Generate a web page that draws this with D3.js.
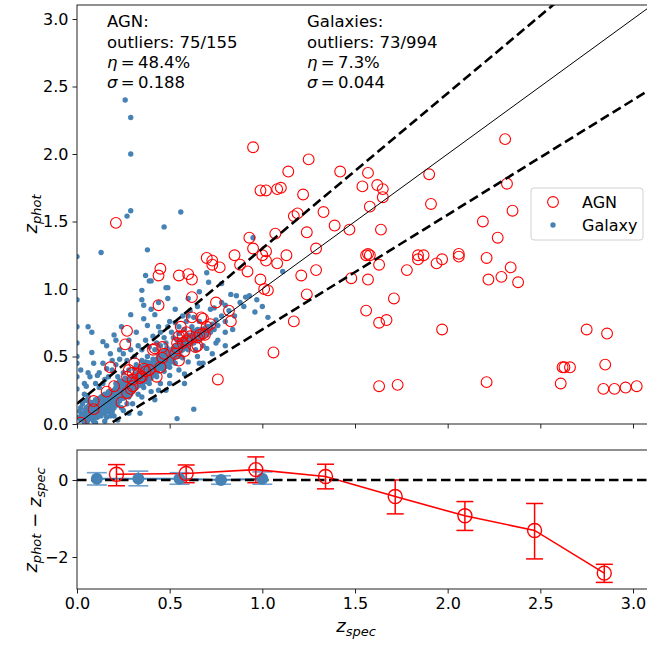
<!DOCTYPE html>
<html><head><meta charset="utf-8">
<script src="https://cdn.jsdelivr.net/npm/d3@7"></script>
<style>body{margin:0;background:#fff}svg{display:block;font-family:"DejaVu Sans",sans-serif}</style>
</head><body><div id="chart"></div>
<script>
// ---------- data ----------
const xTicks = [0, 0.5, 1.0, 1.5, 2.0, 2.5, 3.0];
const yTopTicks = [0, 0.5, 1.0, 1.5, 2.0, 2.5, 3.0];
const yBotTicks = [0, -2];
const outlierFrac = 0.15;

const agnPoints = [
[0.95,2.05],[1.14,1.87],[1.25,1.96],[0.99,1.73],[1.02,1.73],[1.08,1.74],[1.10,1.75],[1.22,1.70],[1.33,1.57],[1.17,1.54],
[1.19,1.56],[1.07,1.41],[1.24,1.42],[1.29,1.30],[0.93,1.38],[0.95,1.30],[1.02,1.28],[1.00,1.25],[1.13,1.25],[1.02,1.21],
[1.08,1.19],[0.85,1.25],[0.70,1.23],[0.73,1.21],[0.73,1.18],[0.77,1.16],[0.88,1.18],[1.29,1.14],
[1.42,1.87],[1.57,1.86],[1.90,1.85],[1.54,1.76],[1.62,1.77],[1.65,1.74],[1.65,1.68],[1.58,1.61],[1.91,1.63],[1.39,1.47],
[1.47,1.44],[1.64,1.44],[2.19,1.50],[1.56,1.25],[1.57,1.26],[1.58,1.25],[1.63,1.18],[1.84,1.25],[1.84,1.22],[1.87,1.25],
[1.94,1.19],[1.97,1.22],[2.06,1.26],[2.06,1.24],[2.21,1.23],[1.78,1.14],
[1.21,1.10],[1.48,1.08],[1.57,1.07],[1.24,0.96],[1.71,0.93],[1.17,0.76],[1.56,0.84],[1.63,0.75],[1.67,0.77],[1.97,0.70],
[1.06,0.53],[1.63,0.28],[1.73,0.29],[2.22,1.07],[2.21,0.31],
[2.31,2.11],[2.32,1.78],[2.35,1.58],[2.27,1.38],[2.34,1.16],[2.29,1.09],[2.38,1.05],[2.75,0.70],[2.86,0.67],
[2.62,0.42],[2.63,0.42],[2.66,0.42],[2.85,0.44],[2.61,0.30],[2.84,0.26],[2.90,0.26],[2.96,0.27],[3.02,0.28],
[0.21,1.49],[0.45,1.15],[0.44,1.10],[0.55,1.10],[0.60,1.11],[0.62,1.07],[0.62,0.94],[0.44,0.88],[0.92,1.13],[0.99,1.07],
[1.01,1.00],[1.03,0.99],[0.75,0.90],[0.82,0.84],[0.83,0.76],[0.27,0.69],[0.26,0.59],[0.18,0.42],[0.16,0.24],[0.09,0.17],
[0.09,0.11],[0.02,0.01],[0.24,0.16],[0.27,0.23],[0.29,0.26],[0.30,0.28],[0.27,0.35],[0.31,0.45],[0.28,0.40],[0.30,0.38],
[0.34,0.34],[0.37,0.39],[0.39,0.40],[0.43,0.35],[0.45,0.42],[0.42,0.56],[0.46,0.57],[0.47,0.52],[0.46,0.49],[0.54,0.60],
[0.54,0.56],[0.55,0.65],[0.56,0.72],[0.59,0.68],[0.59,0.62],[0.58,0.54],[0.64,0.57],[0.65,0.64],[0.66,0.66],[0.68,0.67],
[0.69,0.66],[0.62,0.79],[0.68,0.78],[0.76,0.33],[0.30,0.33],[0.36,0.41],[0.41,0.55],[0.53,0.52],[0.55,0.47],[0.57,0.60],
[0.57,0.65],[0.61,0.65],[0.65,0.58],[0.67,0.79],[0.70,0.72],[0.72,0.74],[0.35,0.35],[0.33,0.37],[0.20,0.28]
];

const galaxyCore = [
[0.02,0.03],[0.03,0.08],[0.04,0.01],[0.05,0.06],[0.05,0.12],[0.06,0.03],[0.07,0.09],[0.07,0.15],[0.08,0.05],[0.08,0.11],
[0.09,0.02],[0.09,0.14],[0.10,0.08],[0.10,0.18],[0.03,0.15],[0.04,0.22],[0.06,0.20],[0.01,0.05],[0.02,0.12],[0.10,0.01],
[0.11,0.05],[0.11,0.12],[0.12,0.09],[0.12,0.16],[0.13,0.13],[0.13,0.20],[0.14,0.10],[0.14,0.17],[0.15,0.14],[0.15,0.22],
[0.16,0.12],[0.16,0.19],[0.17,0.15],[0.17,0.24],[0.18,0.17],[0.18,0.11],[0.19,0.20],[0.19,0.14],[0.20,0.18],[0.20,0.25],
[0.20,0.12],[0.12,0.27],[0.14,0.30],[0.16,0.05],[0.18,0.06],[0.15,0.33],[0.13,0.06],[0.15,0.08],[0.17,0.09],[0.19,0.09],
[0.21,0.22],[0.21,0.16],[0.22,0.20],[0.22,0.27],[0.23,0.23],[0.23,0.17],[0.24,0.25],[0.24,0.30],[0.25,0.22],[0.25,0.28],
[0.26,0.26],[0.26,0.20],[0.27,0.29],[0.27,0.33],[0.28,0.27],[0.28,0.23],[0.29,0.31],[0.29,0.26],[0.30,0.29],[0.30,0.35],
[0.30,0.24],[0.22,0.35],[0.25,0.38],[0.28,0.40],[0.24,0.12],[0.27,0.15],[0.21,0.30],[0.23,0.32],[0.26,0.34],[0.22,0.14],
[0.24,0.19],[0.26,0.23],[0.28,0.20],[0.29,0.34],[0.25,0.31],[0.23,0.28],[0.21,0.25],[0.27,0.25],[0.29,0.22],[0.20,0.21],
[0.31,0.30],[0.31,0.36],[0.32,0.33],[0.32,0.27],[0.33,0.32],[0.33,0.38],[0.34,0.35],[0.34,0.30],[0.35,0.37],[0.35,0.33],
[0.36,0.40],[0.36,0.34],[0.37,0.36],[0.37,0.42],[0.38,0.38],[0.38,0.33],[0.39,0.40],[0.39,0.44],[0.40,0.38],[0.40,0.42],
[0.32,0.44],[0.35,0.47],[0.38,0.50],[0.33,0.22],[0.36,0.27],[0.39,0.30],[0.31,0.41],[0.34,0.42],[0.37,0.46],[0.32,0.37],
[0.33,0.29],[0.35,0.40],[0.36,0.31],[0.38,0.43],[0.39,0.36],[0.40,0.45],[0.31,0.33],[0.34,0.38],[0.37,0.32],[0.40,0.34],
[0.41,0.41],[0.41,0.45],[0.42,0.43],[0.42,0.38],[0.43,0.44],[0.43,0.48],[0.44,0.42],[0.44,0.46],[0.45,0.45],[0.45,0.50],
[0.46,0.44],[0.46,0.48],[0.47,0.47],[0.47,0.52],[0.48,0.46],[0.48,0.50],[0.49,0.49],[0.49,0.54],[0.50,0.48],[0.50,0.52],
[0.42,0.55],[0.45,0.58],[0.48,0.60],[0.43,0.35],[0.47,0.39],[0.50,0.42],[0.41,0.48],[0.44,0.51],[0.46,0.41],[0.48,0.54],
[0.51,0.51],[0.51,0.55],[0.52,0.53],[0.52,0.48],[0.53,0.54],[0.53,0.58],[0.54,0.52],[0.54,0.56],[0.55,0.55],[0.55,0.60],
[0.56,0.54],[0.56,0.58],[0.57,0.57],[0.57,0.62],[0.58,0.56],[0.58,0.60],[0.59,0.59],[0.59,0.64],[0.60,0.58],[0.60,0.62],
[0.52,0.64],[0.55,0.67],[0.58,0.70],[0.53,0.45],[0.57,0.49],[0.51,0.46],[0.54,0.62],[0.56,0.50],[0.60,0.66],
[0.61,0.61],[0.61,0.65],[0.62,0.63],[0.63,0.60],[0.63,0.66],[0.64,0.64],[0.65,0.68],[0.65,0.62],[0.66,0.66],[0.67,0.70],
[0.67,0.64],[0.68,0.67],[0.69,0.71],[0.69,0.66],[0.70,0.69],[0.62,0.72],[0.66,0.76],[0.64,0.55],[0.68,0.58],
[0.71,0.72],[0.72,0.68],[0.73,0.74],[0.74,0.70],[0.75,0.77],[0.76,0.73],[0.78,0.80],[0.80,0.76],[0.82,0.84],[0.85,0.80],
[0.88,0.90],[0.72,0.85],[0.78,0.90],[0.76,0.62],[0.84,0.70],[0.90,0.87],[0.93,0.95],[0.97,0.92],[0.80,0.88],[0.86,0.95],
[0.05,0.09],[0.06,0.07],[0.06,0.13],[0.07,0.04],[0.08,0.08],[0.08,0.16],[0.09,0.06],[0.09,0.10],[0.10,0.12],[0.10,0.05],
[0.11,0.09],[0.11,0.15],[0.12,0.12],[0.12,0.19],[0.13,0.10],[0.13,0.16],[0.14,0.14],[0.14,0.21],[0.15,0.11],[0.15,0.17],
[0.16,0.15],[0.16,0.22],[0.17,0.12],[0.17,0.18],[0.18,0.14],[0.18,0.21],[0.19,0.17],[0.19,0.24],[0.20,0.15],[0.20,0.22],
[0.21,0.19],[0.21,0.27],[0.22,0.23],[0.22,0.17],[0.23,0.20],[0.23,0.26],[0.24,0.22],[0.24,0.27],[0.25,0.25],[0.25,0.19],
[0.26,0.29],[0.26,0.23],[0.27,0.27],[0.27,0.21],[0.28,0.30],[0.28,0.25],[0.29,0.28],[0.29,0.33],[0.30,0.27],[0.30,0.32],
[0.31,0.33],[0.31,0.28],[0.32,0.31],[0.32,0.35],[0.33,0.34],[0.33,0.30],[0.34,0.33],[0.34,0.37],[0.35,0.35],[0.35,0.31],
[0.36,0.37],[0.36,0.43],[0.37,0.39],[0.37,0.34],[0.38,0.36],[0.38,0.41],[0.39,0.38],[0.39,0.34],[0.40,0.40],[0.40,0.36],
[0.41,0.43],[0.41,0.39],[0.42,0.41],[0.42,0.46],[0.43,0.42],[0.43,0.39],[0.44,0.44],[0.44,0.49],[0.45,0.43],[0.45,0.47],
[0.46,0.46],[0.46,0.51],[0.47,0.45],[0.47,0.49],[0.48,0.48],[0.48,0.44],[0.49,0.47],[0.49,0.51],[0.50,0.50],[0.50,0.46],
[0.51,0.53],[0.51,0.49],[0.52,0.51],[0.52,0.56],[0.53,0.52],[0.53,0.56],[0.54,0.54],[0.54,0.50],[0.55,0.53],[0.55,0.57],
[0.56,0.56],[0.56,0.61],[0.57,0.55],[0.57,0.59],[0.58,0.58],[0.58,0.63],[0.59,0.57],[0.59,0.61],[0.60,0.60],[0.60,0.55],
[0.61,0.63],[0.61,0.59],[0.62,0.61],[0.62,0.66],[0.63,0.64],[0.63,0.69],[0.64,0.62],[0.64,0.67],[0.65,0.65],[0.65,0.70],
[0.66,0.63],[0.66,0.69],[0.67,0.67],[0.68,0.70],[0.68,0.64],[0.69,0.68],[0.70,0.66],[0.70,0.72],[0.71,0.69],[0.72,0.71],
[0.105,0.135],[0.115,0.075],[0.125,0.145],[0.135,0.085],[0.145,0.185],[0.155,0.125],[0.165,0.205],[0.175,0.135],[0.185,0.195],[0.195,0.115],
[0.205,0.235],[0.215,0.175],[0.225,0.245],[0.235,0.195],[0.245,0.285],[0.255,0.215],[0.265,0.305],[0.275,0.235],[0.285,0.325],[0.295,0.245],
[0.305,0.315],[0.315,0.265],[0.325,0.355],[0.335,0.285],[0.345,0.395],[0.355,0.305],[0.365,0.385],[0.375,0.315],[0.385,0.455],[0.395,0.335],
[0.405,0.435],[0.415,0.365],[0.425,0.475],[0.435,0.385],[0.445,0.475],[0.455,0.415],[0.465,0.535],[0.475,0.425],[0.485,0.565],[0.495,0.445],
[0.035,0.045],[0.045,0.105],[0.055,0.015],[0.065,0.165],[0.075,0.065],[0.085,0.135],[0.095,0.085],[0.025,0.075],[0.015,0.095],[0.045,0.175]
];

const galaxyScatter = [
[0.00,1.24],[0.00,0.92],[0.00,0.60],[0.00,0.45],[0.00,0.35],[0.00,0.50],[0.00,0.72],[0.00,0.26],
[0.26,2.40],[0.29,2.27],[0.29,2.00],[0.29,1.58],[0.27,1.54],[0.56,1.57],[0.47,1.46],[0.13,1.27],[0.38,1.29],[0.37,1.10],
[0.39,1.06],[0.40,1.06],[0.48,1.01],[0.49,1.01],[0.49,0.93],[0.35,0.99],[0.29,0.81],[0.06,0.72],[0.08,0.68],[0.14,0.61],
[0.08,0.53],[0.63,0.11],[0.34,0.08],[0.54,0.04],[0.38,0.73],[0.95,1.38],[1.00,0.87],[0.83,0.96],[0.70,1.12],[0.71,1.05],
[0.78,1.04],[0.91,0.94],[0.96,0.83],[1.03,0.79],[1.11,1.13],[0.35,0.92],[0.36,0.88],[0.42,0.81],[0.53,0.85],[0.60,0.93],
[0.66,0.98],[0.44,0.72],[0.50,0.76],[0.23,0.55],[0.19,0.47],[0.16,0.41],[0.11,0.36],[0.21,0.62],[0.44,0.25],[0.50,0.30],
[0.58,0.37],[0.66,0.45],[0.73,0.52],[0.80,0.58],[0.60,0.80],[0.74,0.86],[0.04,0.30],[0.07,0.35],[0.02,0.40],
[0.10,0.30],[0.12,0.38],[0.14,0.45],[0.17,0.35],[0.19,0.40],[0.21,0.44],[0.23,0.48],[0.25,0.52],[0.27,0.47],[0.29,0.55],
[0.31,0.50],[0.33,0.58],[0.35,0.55],[0.37,0.62],[0.39,0.57],[0.41,0.65],[0.43,0.60],[0.45,0.68],[0.47,0.64],[0.49,0.72],
[0.51,0.68],[0.53,0.75],[0.55,0.72],[0.57,0.80],[0.59,0.76],[0.61,0.84],[0.63,0.79],[0.65,0.87],[0.20,0.66],[0.24,0.72],
[0.28,0.62],[0.32,0.68],[0.36,0.78],[0.40,0.85],[0.44,0.90],[0.18,0.52],[0.16,0.58],[0.09,0.45],[0.06,0.38],[0.05,0.28],
[0.15,0.02],[0.20,0.06],[0.25,0.10],[0.30,0.15],[0.35,0.20],[0.40,0.24],[0.45,0.30],[0.50,0.36],[0.55,0.40],[0.60,0.46],
[0.65,0.50],[0.70,0.56],[0.22,0.03],[0.28,0.08],[0.42,0.18],[0.48,0.25],[0.58,0.30],[0.68,0.45],[0.75,0.60],[0.80,0.68]
];

// bottom panel binned residuals
const agnBinZ   = [0.213, 0.589, 0.965, 1.341, 1.717, 2.093, 2.469, 2.845];
const agnBinMed = [0.15, 0.17, 0.27, 0.09, -0.43, -0.93, -1.31, -2.42];
const agnBinLo  = [-0.15, -0.07, -0.07, -0.23, -0.88, -1.31, -2.05, -2.66];
const agnBinHi  = [0.40, 0.39, 0.60, 0.41, 0.00, -0.56, -0.61, -2.19];

const galBinZ   = [0.107, 0.331, 0.553, 0.777, 1.000];
const galBinMed = [0.03, 0.03, 0.03, 0.00, 0.03];
const galBinLo  = [-0.13, -0.15, -0.11, -0.11, -0.11];
const galBinHi  = [0.19, 0.23, 0.19, 0.11, 0.21];

// ---------- drawing ----------
const W = 647, H = 646;
const svg = d3.select("#chart").append("svg").attr("width", W).attr("height", H);

const x = d3.scaleLinear().domain([0, 3]).range([77, 633]);
const yT = d3.scaleLinear().domain([0, 3]).range([424, 19]);
const yB = d3.scaleLinear().domain([0, -2]).range([480, 557]);

const topP = {x0: 77, x1: 660, y0: 5, y1: 424};
const botP = {x0: 77, x1: 660, y0: 450, y1: 589};

const defs = svg.append("defs");
defs.append("clipPath").attr("id", "clipTop").append("rect")
  .attr("x", topP.x0).attr("y", topP.y0).attr("width", topP.x1 - topP.x0).attr("height", topP.y1 - topP.y0);
defs.append("clipPath").attr("id", "clipBot").append("rect")
  .attr("x", botP.x0).attr("y", botP.y0).attr("width", botP.x1 - botP.x0).attr("height", botP.y1 - botP.y0);

// ----- top panel -----
const gT = svg.append("g").attr("clip-path", "url(#clipTop)");
const xMax = x.invert(topP.x1);
const galaxyPoints = galaxyCore.concat(galaxyScatter);

gT.selectAll("circle.gal").data(galaxyPoints).enter().append("circle")
  .attr("class", "gal").attr("cx", d => x(d[0])).attr("cy", d => yT(d[1]))
  .attr("r", 2.7).attr("fill", "#4682b4");

gT.selectAll("circle.agn").data(agnPoints).enter().append("circle")
  .attr("class", "agn").attr("cx", d => x(d[0])).attr("cy", d => yT(d[1]))
  .attr("r", 5.4).attr("fill", "none").attr("stroke", "#ff0000").attr("stroke-width", 1.1);

const line = d3.line().x(d => x(d[0])).y(d => yT(d[1]));
gT.append("path").attr("d", line([[0, 0], [xMax, xMax]]))
  .attr("stroke", "#000").attr("stroke-width", 1).attr("fill", "none");
gT.append("path").attr("d", line([[0, outlierFrac], [xMax, xMax + outlierFrac * (1 + xMax)]]))
  .attr("stroke", "#000").attr("stroke-width", 2.6).attr("stroke-dasharray", "9.5,4.5").attr("fill", "none");
gT.append("path").attr("d", line([[0, -outlierFrac], [xMax, xMax - outlierFrac * (1 + xMax)]]))
  .attr("stroke", "#000").attr("stroke-width", 2.6).attr("stroke-dasharray", "9.5,4.5").attr("fill", "none");

svg.append("rect").attr("x", topP.x0).attr("y", topP.y0).attr("width", topP.x1 - topP.x0)
  .attr("height", topP.y1 - topP.y0).attr("fill", "none").attr("stroke", "#222").attr("stroke-width", 1);

svg.append("g").attr("transform", `translate(${topP.x0},0)`)
  .call(d3.axisLeft(yT).tickValues(yTopTicks).tickFormat(d3.format(".1f")).tickSize(4.5).tickPadding(4));
svg.append("g").attr("transform", `translate(0,${topP.y1})`)
  .call(d3.axisBottom(x).tickValues(xTicks).tickFormat("").tickSize(4.5));

// ----- bottom panel -----
const gB = svg.append("g").attr("clip-path", "url(#clipBot)");
const galIdx = d3.range(galBinZ.length);
const agnIdx = d3.range(agnBinZ.length);
const galErrCol = "#6f9fcf";
const lineB = d3.line().x(d => x(d[0])).y(d => yB(d[1]));

galIdx.forEach(i => {
  const cx = x(galBinZ[i]);
  gB.append("line").attr("x1", cx).attr("x2", cx).attr("y1", yB(galBinLo[i])).attr("y2", yB(galBinHi[i]))
    .attr("stroke", galErrCol).attr("stroke-width", 1.6);
  [galBinLo[i], galBinHi[i]].forEach(v => gB.append("line").attr("x1", cx - 10).attr("x2", cx + 10)
    .attr("y1", yB(v)).attr("y2", yB(v)).attr("stroke", galErrCol).attr("stroke-width", 1.6));
});
gB.append("path").attr("d", lineB(galIdx.map(i => [galBinZ[i], galBinMed[i]])))
  .attr("stroke", "#4682b4").attr("stroke-width", 2).attr("fill", "none");

agnIdx.forEach(i => {
  const cx = x(agnBinZ[i]);
  gB.append("line").attr("x1", cx).attr("x2", cx).attr("y1", yB(agnBinLo[i])).attr("y2", yB(agnBinHi[i]))
    .attr("stroke", "#ff0000").attr("stroke-width", 1.5);
  [agnBinLo[i], agnBinHi[i]].forEach(v => gB.append("line").attr("x1", cx - 8.5).attr("x2", cx + 8.5)
    .attr("y1", yB(v)).attr("y2", yB(v)).attr("stroke", "#ff0000").attr("stroke-width", 1.5));
});
gB.append("path").attr("d", lineB(agnIdx.map(i => [agnBinZ[i], agnBinMed[i]])))
  .attr("stroke", "#ff0000").attr("stroke-width", 1.6).attr("fill", "none");

gB.append("path").attr("d", lineB([[0, 0], [x.invert(botP.x1), 0]]))
  .attr("stroke", "#000").attr("stroke-width", 2.6).attr("stroke-dasharray", "9.5,4.5").attr("fill", "none");

gB.selectAll("circle.gb").data(galIdx).enter().append("circle")
  .attr("cx", i => x(galBinZ[i])).attr("cy", i => yB(galBinMed[i])).attr("r", 6).attr("fill", "#4682b4");
gB.selectAll("circle.ab").data(agnIdx).enter().append("circle")
  .attr("cx", i => x(agnBinZ[i])).attr("cy", i => yB(agnBinMed[i])).attr("r", 7)
  .attr("fill", "none").attr("stroke", "#ff0000").attr("stroke-width", 1.4);

svg.append("rect").attr("x", botP.x0).attr("y", botP.y0).attr("width", botP.x1 - botP.x0)
  .attr("height", botP.y1 - botP.y0).attr("fill", "none").attr("stroke", "#222").attr("stroke-width", 1);

svg.append("g").attr("transform", `translate(${botP.x0},0)`)
  .call(d3.axisLeft(yB).tickValues(yBotTicks).tickFormat(d => d < 0 ? "\u2212" + Math.abs(d) : d).tickSize(4.5).tickPadding(4));
svg.append("g").attr("transform", `translate(0,${botP.y1})`)
  .call(d3.axisBottom(x).tickValues(xTicks).tickFormat(d3.format(".1f")).tickSize(4.5).tickPadding(4));

svg.selectAll(".domain").remove();
svg.selectAll(".tick line").attr("stroke", "#222");
svg.selectAll(".tick text").attr("font-size", 16).attr("fill", "#000").attr("font-family", "DejaVu Sans");

// ----- annotations -----
function stats(xp, lines) {
  const t = svg.append("text").attr("font-size", 16.5).attr("fill", "#000");
  t.append("tspan").attr("x", xp).attr("y", 27).text(lines[0]);
  t.append("tspan").attr("x", xp).attr("y", 48).text(lines[1]);
  const t2 = svg.append("text").attr("font-size", 16.5).attr("x", xp).attr("y", 68);
  t2.append("tspan").attr("font-style", "italic").text("\u03b7");
  t2.append("tspan").text("\u2009=\u2009" + lines[2]);
  const t3 = svg.append("text").attr("font-size", 16.5).attr("x", xp).attr("y", 88);
  t3.append("tspan").attr("font-style", "italic").text("\u03c3");
  t3.append("tspan").text("\u2009=\u2009" + lines[3]);
}
stats(107, ["AGN:", "outliers: 75/155", "48.4%", "0.188"]);
stats(307, ["Galaxies:", "outliers: 73/994", "7.3%", "0.044"]);

// legend
const lg = svg.append("g");
lg.append("rect").attr("x", 531).attr("y", 188).attr("width", 112).attr("height", 52).attr("rx", 3)
  .attr("fill", "#fff").attr("fill-opacity", 0.8).attr("stroke", "#d0d0d0");
lg.append("circle").attr("cx", 553).attr("cy", 202).attr("r", 5.4).attr("fill", "none").attr("stroke", "#ff0000").attr("stroke-width", 1.1);
lg.append("circle").attr("cx", 553).attr("cy", 225).attr("r", 2.7).attr("fill", "#4682b4");
lg.append("text").attr("x", 582).attr("y", 208).attr("font-size", 16).text("AGN");
lg.append("text").attr("x", 582).attr("y", 231).attr("font-size", 16).text("Galaxy");

// axis labels
function zLabel(g, parts) {
  const t = g.append("text").attr("font-size", 18).attr("text-anchor", "middle");
  parts.forEach(p => {
    if (p.sub) {
      t.append("tspan").attr("font-style", "italic").attr("font-size", 13).attr("dy", 4).text(p.sub);
      t.append("tspan").attr("dy", -4).text("");
    } else if (p.z) {
      t.append("tspan").attr("font-style", "italic").text("z");
    } else {
      t.append("tspan").text(p.t);
    }
  });
  return t;
}
zLabel(svg.append("g").attr("transform", "translate(37,214) rotate(-90)"), [{z: 1}, {sub: "phot"}]);
zLabel(svg.append("g").attr("transform", "translate(37,520) rotate(-90)"),
  [{z: 1}, {sub: "phot"}, {t: " \u2212 "}, {z: 1}, {sub: "spec"}]);
zLabel(svg.append("g").attr("transform", "translate(356,632)"), [{z: 1}, {sub: "spec"}]);
</script></body></html>
